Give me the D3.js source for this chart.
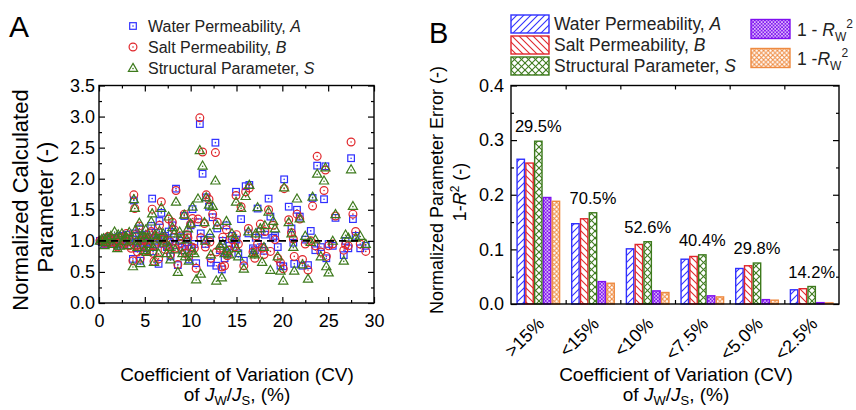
<!DOCTYPE html>
<html><head><meta charset="utf-8">
<script src="https://cdn.jsdelivr.net/npm/d3@7"></script>
<style>body{margin:0;background:#fff} svg{display:block;font-family:"Liberation Sans",Arial,sans-serif}</style>
</head><body><svg id="c" width="856" height="410"></svg>
<script>
// ---------- Panel A data ----------
const cvValues = [
0.1,0.3,0.5,0.6,0.7,0.9,1.0,1.1,1.3,1.5,
1.7,1.9,2.0,2.1,2.3,2.5,2.7,2.9,3.0,3.1,
3.3,3.5,3.7,3.8,3.9,4.0,4.1,4.2,4.4,4.5,
4.6,4.7,4.9,5.0,5.1,5.2,5.3,5.5,5.7,5.8,
5.9,6.0,6.1,6.2,6.3,6.5,6.6,6.8,7.0,7.1,
7.2,7.4,7.6,7.7,7.8,8.0,8.2,8.3,8.4,8.6,
8.8,8.9,9.1,9.3,9.4,9.6,9.7,9.8,10.0,10.1,
10.2,10.4,10.6,10.8,11.0,11.1,11.3,11.5,11.6,11.7,
12.0,12.1,12.2,12.4,12.7,12.8,12.9,13.2,13.4,13.5,
13.7,13.9,14.0,14.2,14.5,14.8,14.95,15.0,15.2,15.5,
15.8,16.0,16.3,16.4,16.8,17.0,17.1,17.3,17.6,17.8,
18.0,18.1,18.5,18.7,19.0,19.2,19.5,19.8,20.1,20.2,
20.7,21.0,21.2,21.3,21.6,21.9,22.2,22.5,22.8,23.1,
23.3,23.6,23.8,24.2,24.55,24.7,24.8,25.05,25.5,25.8,
26.7,26.9,27.2,27.5,27.7,28.0,28.5,29.1];
const waterPermA = [
1.00,0.98,1.02,0.95,0.96,1.03,1.05,0.99,1.05,0.97,
1.02,0.95,0.92,1.06,0.99,1.08,0.94,1.03,1.10,0.98,
1.05,0.93,0.71,1.65,1.12,1.08,0.96,0.88,1.20,0.68,
0.97,1.02,0.92,1.00,1.10,0.88,0.97,1.04,1.24,1.68,
0.83,1.05,0.95,1.13,1.00,0.63,1.32,1.45,0.95,1.03,
1.08,0.90,1.15,0.98,0.75,1.25,1.06,0.93,1.84,0.61,
1.00,1.06,0.85,1.40,0.92,0.98,1.10,0.70,1.25,0.88,
1.51,0.95,0.64,1.30,2.88,1.12,2.08,1.02,0.95,1.70,
1.55,1.05,0.65,1.38,2.58,0.60,1.20,0.85,0.54,1.00,
0.72,1.25,0.80,0.92,1.08,0.95,1.79,1.02,0.80,1.35,
0.68,1.88,1.12,1.90,0.88,0.85,1.05,1.52,1.15,0.90,
0.84,1.10,1.68,1.39,1.05,1.08,0.90,0.60,0.59,1.99,
1.55,1.20,0.97,0.63,1.50,1.39,0.60,1.02,0.61,1.16,
1.69,0.85,2.21,0.90,1.67,2.20,0.72,0.95,0.92,1.37,
0.77,1.00,0.88,2.33,1.35,1.08,0.88,0.92];
const saltPermB = [
1.00,1.01,0.99,0.96,1.00,1.02,1.07,0.97,1.03,0.99,
1.04,0.97,0.90,1.02,1.01,1.05,0.96,0.99,1.12,1.04,
0.92,0.88,0.68,1.74,1.52,1.10,0.92,0.82,1.24,0.72,
1.00,0.95,1.06,1.02,1.00,0.84,0.90,1.12,1.15,1.51,
0.80,0.67,0.93,1.08,0.98,0.71,1.25,1.63,1.03,1.06,
0.86,0.93,1.35,1.00,0.78,1.30,1.18,0.88,1.81,0.62,
0.95,1.08,0.90,1.43,0.80,1.10,1.05,0.75,1.27,0.90,
1.36,0.88,0.56,1.35,2.98,1.05,2.43,1.28,0.90,1.74,
1.67,0.98,0.72,1.43,2.42,0.82,1.30,0.88,0.58,1.06,
0.60,1.18,0.76,0.85,1.02,0.90,1.73,1.10,0.95,1.55,
0.60,1.79,1.20,1.85,0.82,0.72,1.08,0.95,1.27,0.88,
0.78,1.15,1.50,0.83,1.25,1.02,0.72,0.65,0.55,1.84,
1.34,1.13,1.03,0.75,1.43,1.35,0.70,0.95,0.53,1.00,
1.56,0.92,2.36,0.82,1.81,2.14,0.75,0.92,0.95,1.40,
0.85,0.94,0.92,2.59,1.43,1.15,0.95,0.83];
const structParamS = [
1.00,1.03,1.04,0.93,0.98,1.06,1.03,1.02,1.08,0.95,
1.15,1.05,0.88,1.10,0.92,1.12,1.00,1.07,1.06,0.93,
1.14,1.02,0.59,1.67,1.53,1.18,1.00,0.90,1.29,0.64,
1.04,1.10,0.85,1.06,1.18,0.82,1.05,0.95,1.31,1.44,
0.90,0.66,1.10,1.02,1.04,0.80,1.16,1.53,1.12,0.97,
1.00,0.80,1.39,0.90,0.70,1.22,1.12,0.86,1.63,0.50,
1.15,1.02,0.80,1.42,0.75,1.02,1.20,0.68,1.28,0.84,
1.55,0.80,0.38,1.68,2.46,0.47,2.21,1.30,1.00,1.70,
1.58,1.12,0.78,1.56,1.97,0.36,1.25,0.92,0.41,0.95,
0.80,1.32,0.84,0.78,1.12,1.05,1.63,0.88,0.75,1.53,
0.55,1.72,1.15,1.90,0.80,0.78,1.12,1.54,1.20,0.66,
0.90,1.25,1.47,0.53,1.32,1.20,0.75,0.52,0.36,1.86,
1.30,1.12,0.90,0.52,1.68,1.36,0.62,1.08,0.39,0.98,
1.71,1.02,2.08,0.75,1.97,2.18,0.59,0.49,1.00,1.43,
0.68,1.10,1.05,2.15,1.56,1.05,1.08,0.95];
const xTicksA = [0,5,10,15,20,25,30];
const xMinorA = [2.5,7.5,12.5,17.5,22.5,27.5];
const yTicksA = [0,0.5,1,1.5,2,2.5,3,3.5];
const yMinorA = [0.25,0.75,1.25,1.75,2.25,2.75,3.25];
const refLineY = 1.0;
const refLineX = [0, 28.8];

// ---------- Panel B data ----------
const cvBins = [">15%","<15%","<10%","<7.5%","<5.0%","<2.5%"];
const binShare = ["29.5%","70.5%","52.6%","40.4%","29.8%","14.2%"];
const errA   = [0.265,0.147,0.101,0.082,0.065,0.026];
const errB   = [0.258,0.156,0.109,0.087,0.070,0.028];
const errS   = [0.298,0.167,0.114,0.090,0.075,0.032];
const errRw1 = [0.195,0.041,0.024,0.015,0.008,0.0025];
const errRw2 = [0.188,0.038,0.021,0.013,0.007,0.002];
const yTicksB = [0,0.1,0.2,0.3,0.4];
const yMinorB = [0.05,0.15,0.25,0.35];

const cBlue = "#2f2fff", cRed = "#e0262b", cGreen = "#3d7a1c", cPurple = "#7f10f0", cOrange = "#ee8a40";

const svg = d3.select("#c");
const defs = svg.append("defs");
function linePattern(id, color, size, paths, sw){
  const p = defs.append("pattern").attr("id", id).attr("patternUnits","userSpaceOnUse")
    .attr("width", size).attr("height", size);
  p.append("rect").attr("width",size).attr("height",size).attr("fill","#fff");
  paths.forEach(d => p.append("path").attr("d", d).attr("stroke", color).attr("stroke-width", sw).attr("fill","none"));
}
{
  const s=7;
  linePattern("pA", cBlue, s, [`M0,${s} L${s},0`, `M${-s/2},${s/2} L${s/2},${-s/2}`, `M${s/2},${s*1.5} L${s*1.5},${s/2}`], 1.1);
  linePattern("pB", cRed, s, [`M0,0 L${s},${s}`, `M${-s/2},${s/2} L${s/2},${s*1.5}`, `M${s/2},${-s/2} L${s*1.5},${s/2}`], 1.1);
  const g=7;
  linePattern("pS", cGreen, g, [`M0,0 L${g},${g}`, `M0,${g} L${g},0`], 1.1);
  const q=3.4;
  linePattern("pR1", cPurple, q, [`M0,0 L${q},${q}`, `M0,${q} L${q},0`], 1.0);
  const o=4.6;
  linePattern("pR2", cOrange, o, [`M0,0 L${o},${o}`, `M0,${o} L${o},0`], 1.0);
}

// ================= Panel A =================
const xL = d3.scaleLinear().domain([0,30]).range([99,374]);
const yL = d3.scaleLinear().domain([0,3.5]).range([303,85.5]);
const gA = svg.append("g");

function styleAxis(g){ g.select(".domain").remove(); g.selectAll("line").attr("stroke","#000").attr("stroke-width",1.2); g.selectAll("text").attr("fill","#000"); }

gA.append("g").attr("transform",`translate(0,${yL(0)})`)
  .call(d3.axisBottom(xL).tickValues(xTicksA).tickSize(-6).tickPadding(11).tickFormat(d3.format("d")))
  .call(styleAxis).selectAll("text").attr("font-size",18).attr("font-family","Liberation Sans, Arial");
gA.append("g").attr("transform",`translate(0,${yL(0)})`)
  .call(d3.axisBottom(xL).tickValues(xMinorA).tickSize(-3).tickFormat("")).call(styleAxis);
gA.append("g").attr("transform",`translate(0,${yL(3.5)})`)
  .call(d3.axisTop(xL).tickValues(xTicksA).tickSize(-6).tickFormat("")).call(styleAxis);
gA.append("g").attr("transform",`translate(0,${yL(3.5)})`)
  .call(d3.axisTop(xL).tickValues(xMinorA).tickSize(-3).tickFormat("")).call(styleAxis);
gA.append("g").attr("transform",`translate(${xL(0)},0)`)
  .call(d3.axisLeft(yL).tickValues(yTicksA).tickSize(-6).tickPadding(4).tickFormat(d3.format(".1f")))
  .call(styleAxis).selectAll("text").attr("font-size",18).attr("font-family","Liberation Sans, Arial");
gA.append("g").attr("transform",`translate(${xL(0)},0)`)
  .call(d3.axisLeft(yL).tickValues(yMinorA).tickSize(-3).tickFormat("")).call(styleAxis);
gA.append("g").attr("transform",`translate(${xL(30)},0)`)
  .call(d3.axisRight(yL).tickValues(yTicksA).tickSize(-6).tickFormat("")).call(styleAxis);
gA.append("g").attr("transform",`translate(${xL(30)},0)`)
  .call(d3.axisRight(yL).tickValues(yMinorA).tickSize(-3).tickFormat("")).call(styleAxis);

function marker(g, type, x, y, color){
  if(type==="sq") g.append("rect").attr("x",x-3.3).attr("y",y-3.3).attr("width",6.6).attr("height",6.6)
      .attr("fill","none").attr("stroke",color).attr("stroke-width",1.2);
  else if(type==="ci") g.append("circle").attr("cx",x).attr("cy",y).attr("r",3.9)
      .attr("fill","none").attr("stroke",color).attr("stroke-width",1.2);
  else g.append("path").attr("d",`M${x},${y-4.6} L${x+4.6},${y+3.4} L${x-4.6},${y+3.4} Z`)
      .attr("fill","none").attr("stroke",color).attr("stroke-width",1.2);
  g.append("circle").attr("cx",x).attr("cy",y+(type==="tr"?0.6:0)).attr("r",0.8).attr("fill",color);
}
const seriesA = [
  {vals: waterPermA, type:"sq", color:cBlue},
  {vals: saltPermB, type:"ci", color:cRed},
  {vals: structParamS, type:"tr", color:cGreen}
];
const pts = gA.append("g");
seriesA.forEach(s => s.vals.forEach((v,i) => marker(pts, s.type, xL(cvValues[i]), yL(v), s.color)));

gA.append("line").attr("x1",xL(refLineX[0])).attr("x2",xL(refLineX[1])).attr("y1",yL(refLineY)).attr("y2",yL(refLineY))
  .attr("stroke","#000").attr("stroke-width",1.8).attr("stroke-dasharray","7,5");

gA.append("rect").attr("x",xL(0)).attr("y",yL(3.5)).attr("width",xL(30)-xL(0)).attr("height",yL(0)-yL(3.5))
  .attr("fill","none").attr("stroke","#000").attr("stroke-width",1.4);

// legend A
const legA = [["sq",cBlue,"Water Permeability, ","A"],["ci",cRed,"Salt Permeability, ","B"],["tr",cGreen,"Structural Parameter, ","S"]];
legA.forEach((d,i) => {
  const cy = 26 + i*21;
  marker(gA, d[0], 133, cy, d[1]);
  const t = gA.append("text").attr("x",148).attr("y",cy+6).attr("font-size",16).attr("fill","#222");
  t.append("tspan").text(d[2]); t.append("tspan").attr("font-style","italic").text(d[3]);
});
svg.append("text").attr("x",9).attr("y",37).attr("font-size",30).text("A");

// axis titles A
svg.append("text").attr("transform","translate(28,200) rotate(-90)").attr("text-anchor","middle").attr("font-size",22).text("Normalized Calculated");
svg.append("text").attr("transform","translate(53,207) rotate(-90)").attr("text-anchor","middle").attr("font-size",22).text("Parameter (-)");

function cvTitle(cx){
  svg.append("text").attr("x",cx).attr("y",381).attr("text-anchor","middle").attr("font-size",19).text("Coefficient of Variation (CV)");
  const t = svg.append("text").attr("x",cx).attr("y",401).attr("text-anchor","middle").attr("font-size",19);
  t.append("tspan").text("of ");
  t.append("tspan").attr("font-style","italic").text("J");
  t.append("tspan").attr("font-size",13).attr("dy",4).text("W");
  t.append("tspan").attr("dy",-4).text("/");
  t.append("tspan").attr("font-style","italic").text("J");
  t.append("tspan").attr("font-size",13).attr("dy",4).text("S");
  t.append("tspan").attr("dy",-4).text(", (%)");
}
cvTitle(237);

// ================= Panel B =================
const xB = d3.scaleBand().domain(cvBins).range([511,839]).paddingInner(0.196).paddingOuter(0.098);
const seriesB = [
  {vals:errA, fill:"url(#pA)", color:cBlue},
  {vals:errB, fill:"url(#pB)", color:cRed},
  {vals:errS, fill:"url(#pS)", color:cGreen},
  {vals:errRw1, fill:"url(#pR1)", color:cPurple},
  {vals:errRw2, fill:"url(#pR2)", color:cOrange}
];
const xIn = d3.scaleBand().domain(d3.range(seriesB.length)).range([0, xB.bandwidth()]);
const yB = d3.scaleLinear().domain([0,0.4]).range([304,85.5]);
const gB = svg.append("g");

const bounds = cvBins.map((c,i)=> i===0 ? null : xB(c) - xB.step()*xB.paddingInner()/2).filter(d=>d!==null);

gB.append("g").attr("transform",`translate(${xB.range()[0]},0)`)
  .call(d3.axisLeft(yB).tickValues(yTicksB).tickSize(-6).tickPadding(7).tickFormat(d3.format(".1f")))
  .call(styleAxis).selectAll("text").attr("font-size",18).attr("font-family","Liberation Sans, Arial");
gB.append("g").attr("transform",`translate(${xB.range()[0]},0)`)
  .call(d3.axisLeft(yB).tickValues(yMinorB).tickSize(-3).tickFormat("")).call(styleAxis);
gB.append("g").attr("transform",`translate(${xB.range()[1]},0)`)
  .call(d3.axisRight(yB).tickValues(yTicksB).tickSize(-6).tickFormat("")).call(styleAxis);
gB.append("g").attr("transform",`translate(${xB.range()[1]},0)`)
  .call(d3.axisRight(yB).tickValues(yMinorB).tickSize(-3).tickFormat("")).call(styleAxis);
const xBound = d3.scaleLinear().domain([0,1]).range([0,1]);
gB.append("g").attr("transform",`translate(0,${yB(0)})`)
  .call(d3.axisBottom(xBound).tickValues(bounds).tickSize(-4).tickFormat("")).call(styleAxis);
gB.append("g").attr("transform",`translate(0,${yB(0.4)})`)
  .call(d3.axisTop(xBound).tickValues(bounds).tickSize(-4).tickFormat("")).call(styleAxis);

seriesB.forEach((s,k) => {
  gB.append("g").selectAll("rect").data(s.vals).join("rect")
    .attr("x",(d,i)=>xB(cvBins[i]) + xIn(k) + 0.7)
    .attr("y",d=>yB(d))
    .attr("width", xIn.bandwidth()-1.4)
    .attr("height",d=>yB(0)-yB(d))
    .attr("fill",s.fill).attr("stroke",s.color).attr("stroke-width",1.4);
});

// share labels
gB.append("g").selectAll("text").data(binShare).join("text")
  .attr("x",(d,i)=>xB(cvBins[i]) + xB.bandwidth()/2)
  .attr("y",(d,i)=>yB(Math.max(errA[i],errB[i],errS[i],errRw1[i],errRw2[i])) - 9)
  .attr("text-anchor","middle").attr("font-size",16.5).text(d=>d);

// rotated category labels
gB.append("g").selectAll("text").data(cvBins).join("text")
  .attr("transform",d=>`translate(${xB(d)+xB.bandwidth()/2+7},325) rotate(-45)`)
  .attr("text-anchor","end").attr("font-size",18).text(d=>d);

gB.append("rect").attr("x",xB.range()[0]).attr("y",yB(0.4)).attr("width",xB.range()[1]-xB.range()[0]).attr("height",yB(0)-yB(0.4))
  .attr("fill","none").attr("stroke","#000").attr("stroke-width",1.4);

svg.append("text").attr("x",429).attr("y",43).attr("font-size",29).text("B");

// y titles B
svg.append("text").attr("transform","translate(443,190) rotate(-90)").attr("text-anchor","middle").attr("font-size",18).text("Normalized Parameter Error (-)");
{
  const t = svg.append("text").attr("transform","translate(466,192) rotate(-90)").attr("text-anchor","middle").attr("font-size",18);
  t.append("tspan").text("1-");
  t.append("tspan").attr("font-style","italic").text("R");
  t.append("tspan").attr("font-size",12).attr("dy",-7).text("2");
  t.append("tspan").attr("dy",7).text(" (-)");
}
cvTitle(676);

// legend B
const legB1 = [["url(#pA)",cBlue,"Water Permeability, ","A"],["url(#pB)",cRed,"Salt Permeability, ","B"],["url(#pS)",cGreen,"Structural Parameter, ","S"]];
legB1.forEach((d,i)=>{
  const y0 = 15 + i*21;
  svg.append("rect").attr("x",511).attr("y",y0).attr("width",38).attr("height",18).attr("fill",d[0]).attr("stroke",d[1]).attr("stroke-width",1.4);
  const t = svg.append("text").attr("x",554).attr("y",y0+15).attr("font-size",17.5).attr("fill","#222");
  t.append("tspan").text(d[2]); t.append("tspan").attr("font-style","italic").text(d[3]);
});
const legB2 = [["url(#pR1)",cPurple,"1 - "],["url(#pR2)",cOrange,"1 -"]];
legB2.forEach((d,i)=>{
  const y0 = 19.5 + i*29;
  svg.append("rect").attr("x",751).attr("y",y0).attr("width",39).attr("height",19).attr("fill",d[0]).attr("stroke",d[1]).attr("stroke-width",1.4);
  const t = svg.append("text").attr("x",797).attr("y",y0+16).attr("font-size",17.5).attr("fill","#222");
  t.append("tspan").text(d[2]);
  t.append("tspan").attr("font-style","italic").text("R");
  t.append("tspan").attr("font-size",12).attr("dy",5).text("W");
  t.append("tspan").attr("font-size",12).attr("dy",-13).text("2");
});
</script></body></html>
